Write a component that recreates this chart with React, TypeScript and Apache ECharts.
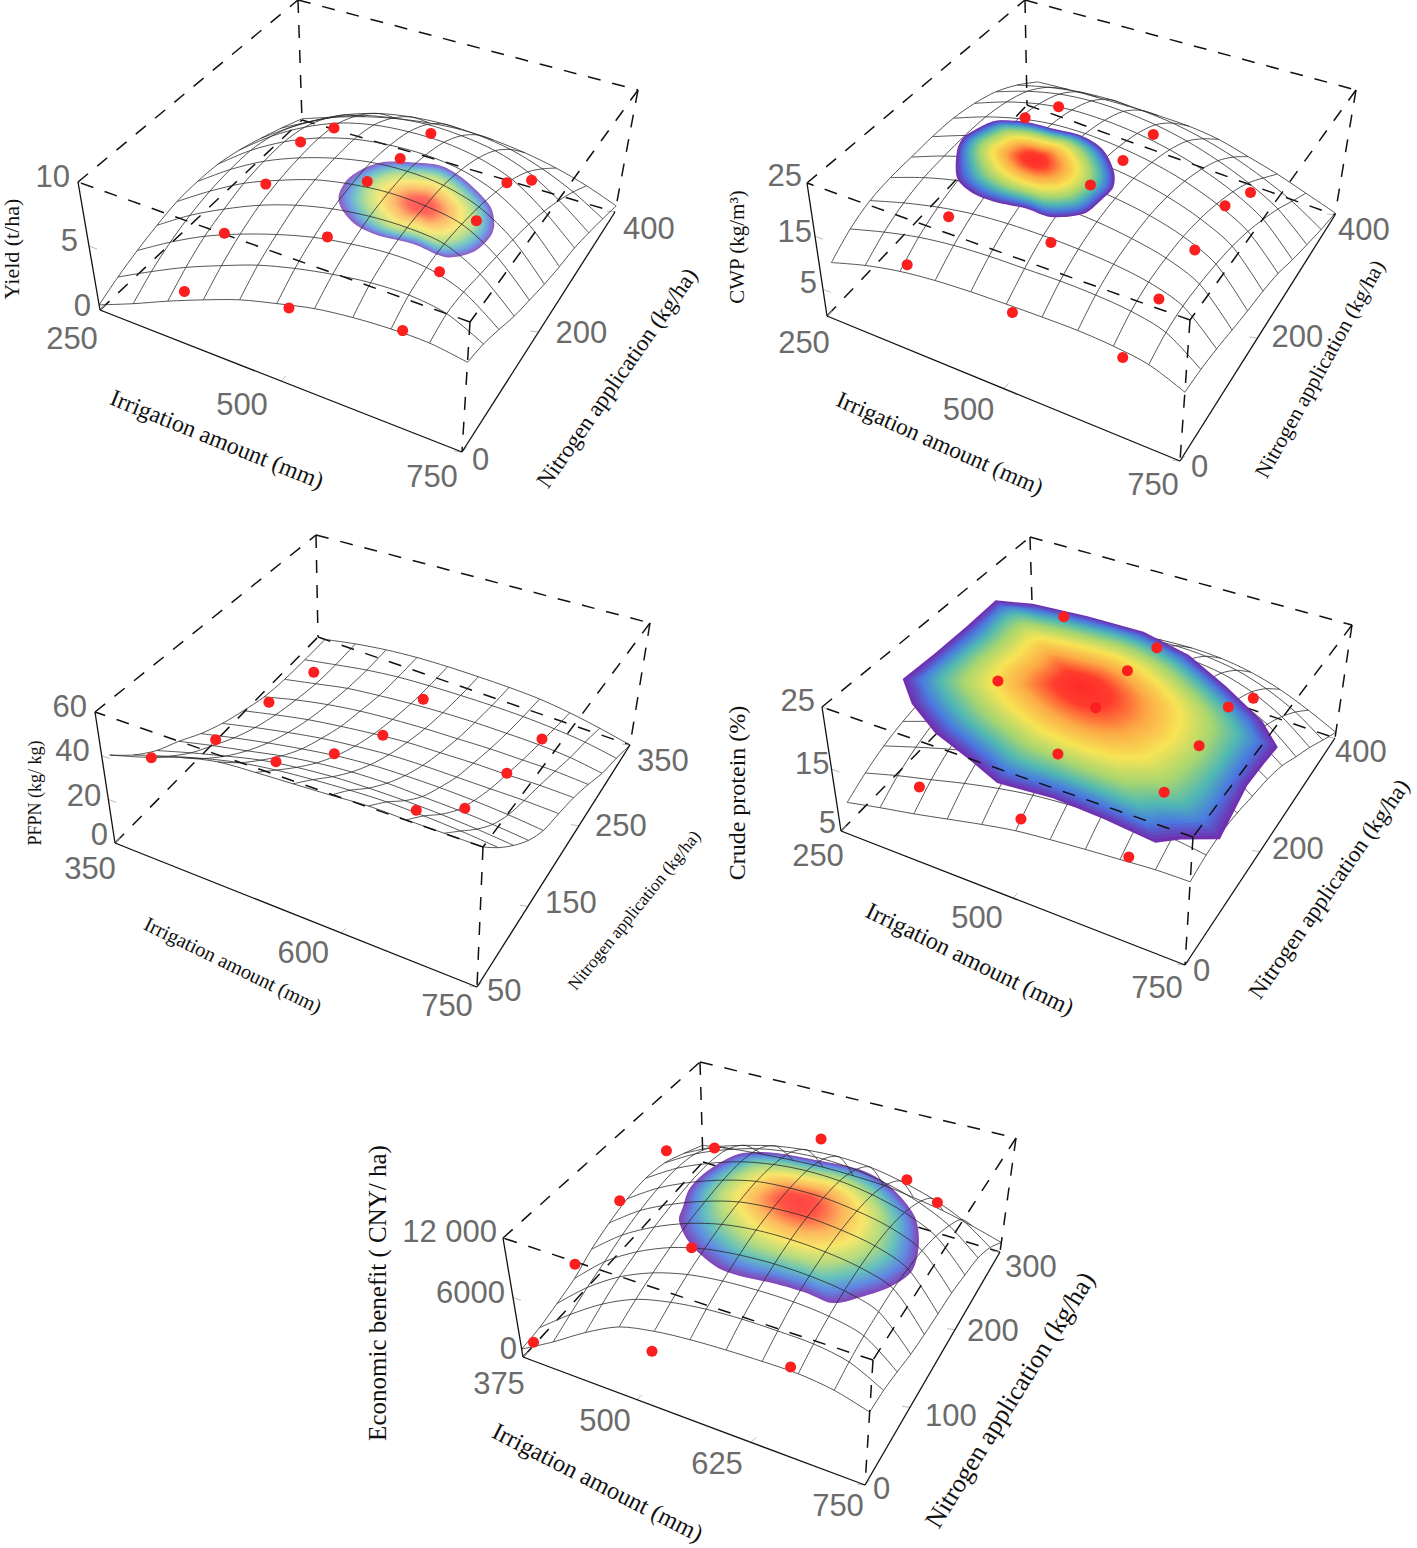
import { useEffect, useRef } from "react";
import * as echarts from "echarts";

// surfaces: rows go along nitrogen (low to high), columns along irrigation (low to high)
const YIELD_IRR = [250, 300, 350, 400, 450, 500, 550, 600, 650, 700, 750];
const YIELD_N = [0, 40, 80, 120, 160, 200, 240, 280, 320, 360, 400];
const YIELD_SURFACE = [
  [0.4, 1.6, 2.9, 4.1, 5.2, 6.0, 6.7, 7.1, 7.3, 7.3, 6.9],
  [1.1, 2.6, 4.0, 5.2, 6.3, 7.1, 7.7, 8.1, 8.2, 7.8, 6.5],
  [1.7, 3.4, 4.9, 6.1, 7.1, 7.9, 8.4, 8.7, 8.6, 7.7, 5.8],
  [2.2, 4.0, 5.5, 6.8, 7.8, 8.5, 8.9, 9.0, 8.7, 7.3, 5.0],
  [2.6, 4.4, 6.0, 7.2, 8.2, 8.8, 9.1, 9.0, 8.5, 6.9, 4.4],
  [2.7, 4.6, 6.2, 7.4, 8.3, 8.9, 9.1, 8.9, 8.1, 6.4, 3.8],
  [2.6, 4.6, 6.2, 7.4, 8.2, 8.6, 8.7, 8.4, 7.5, 5.8, 3.3],
  [2.2, 4.2, 5.8, 7.0, 7.7, 8.0, 8.0, 7.6, 6.7, 5.0, 2.9],
  [1.6, 3.4, 4.9, 6.0, 6.6, 6.9, 6.8, 6.4, 5.5, 4.0, 2.2],
  [0.9, 2.3, 3.6, 4.5, 5.0, 5.2, 5.1, 4.7, 3.9, 2.8, 1.4],
  [0.1, 1.0, 1.8, 2.4, 2.8, 3.0, 2.9, 2.6, 2.1, 1.4, 0.5],
];
const YIELD_DOT_IRR = [375, 516, 665];
const YIELD_DOT_N = [0, 84, 168, 238, 304];
const YIELD_DOTS = [
  [4.2, 6.0, 7.5],
  [5.5, 8.1, 8.4],
  [6.1, 9.0, 8.7],
  [6.7, 7.9, 8.6],
  [5.2, 7.1, 5.8],
];
const YIELD_CAP_CENTER = [585, 178];
const YIELD_CAP_RIM = [
  [488, 151], [481, 178], [486, 201], [501, 222], [532, 235], [571, 244], [610, 234], [661, 208],
  [681, 184], [687, 164], [681, 135], [656, 115], [611, 118], [566, 113], [534, 117], [503, 134],
];

const CWP_IRR = [268, 316, 364, 412, 460, 508, 556, 604, 652, 700, 750];
const CWP_N = [0, 40, 80, 120, 160, 200, 240, 280, 320, 360, 400];
const CWP_SURFACE = [
  [11.0, 13.0, 14.4, 15.2, 15.6, 15.8, 15.9, 15.9, 15.5, 14.6, 12.2],
  [13.6, 15.5, 17.0, 17.9, 18.3, 18.4, 18.5, 18.3, 17.7, 16.2, 12.0],
  [15.3, 17.3, 18.9, 20.0, 20.5, 20.6, 20.4, 19.9, 18.9, 16.8, 11.4],
  [16.0, 18.4, 20.2, 21.4, 21.9, 21.9, 21.5, 20.6, 19.2, 16.6, 10.5],
  [16.2, 18.8, 20.8, 22.1, 22.7, 22.5, 21.9, 20.8, 19.0, 16.0, 9.6],
  [16.4, 19.0, 21.0, 22.3, 22.7, 22.4, 21.6, 20.2, 18.1, 15.0, 8.8],
  [16.2, 18.8, 20.7, 21.8, 22.0, 21.5, 20.5, 18.9, 16.6, 13.4, 7.6],
  [15.2, 17.8, 19.6, 20.5, 20.5, 19.9, 18.7, 16.9, 14.5, 11.2, 5.6],
  [13.4, 15.8, 17.4, 18.1, 18.0, 17.3, 16.0, 14.1, 11.7, 8.6, 3.8],
  [10.4, 12.2, 13.4, 13.9, 13.7, 13.1, 11.9, 10.2, 8.0, 5.4, 2.0],
  [6.4, 7.0, 7.4, 7.7, 7.8, 7.7, 7.0, 5.5, 4.0, 2.2, 0.4],
];
const CWP_DOT_IRR = [375, 516, 665];
const CWP_DOT_N = [0, 84, 168, 238, 304];
const CWP_DOTS = [
  [16.2, 14.7, 14.1],
  [17.2, 19.3, 16.0],
  [null, 21.8, 16.2],
  [21.6, 19.3, 17.0],
  [16.9, 17.4, 12.2],
];
const CWP_CAP_CENTER = [431, 177];
const CWP_CAP_RIM = [
  [343, 149], [334, 173], [339, 197], [350, 217], [383, 229], [420, 232], [458, 235], [495, 225], [529, 198],
  [544, 174], [543, 150], [537, 121], [505, 100], [472, 100], [435, 94], [404, 95], [372, 109],
];

const PFPN_IRR = [359, 398, 437, 476, 515, 554, 593, 632, 671, 710, 750];
const PFPN_N = [50, 80, 110, 140, 170, 200, 230, 260, 290, 320, 350];
const PFPN_SURFACE = [
  [41.7, 46.8, 52.7, 56.7, 57.9, 58.7, 59.5, 60.5, 60.2, 60.1, 60.0],
  [33.0, 38.5, 43.5, 47.5, 50.0, 51.5, 52.5, 53.0, 52.5, 51.5, 50.0],
  [26.0, 31.0, 35.5, 39.5, 42.0, 43.5, 44.0, 44.0, 43.5, 42.5, 41.0],
  [21.0, 25.0, 28.5, 32.0, 34.5, 36.0, 36.5, 36.0, 35.5, 34.5, 33.0],
  [15.0, 19.0, 22.5, 25.5, 28.0, 29.5, 30.0, 30.0, 29.5, 28.5, 27.0],
  [10.0, 14.0, 17.5, 20.5, 22.5, 24.0, 24.5, 24.5, 24.5, 24.5, 24.0],
  [6.0, 10.0, 13.5, 16.0, 18.0, 19.5, 20.0, 20.5, 20.5, 20.8, 20.5],
  [2.5, 7.0, 10.5, 13.0, 14.5, 15.5, 16.0, 16.5, 16.5, 16.5, 15.6],
  [0.8, 4.5, 8.0, 10.0, 11.5, 12.5, 13.0, 13.0, 12.8, 11.8, 9.6],
  [0.2, 3.5, 6.5, 8.5, 9.5, 10.0, 10.2, 10.0, 9.2, 7.8, 5.3],
  [0.0, 3.5, 6.0, 7.5, 8.1, 8.2, 8.0, 7.3, 5.5, 3.0, 0.0],
];
const PFPN_DOT_IRR = [383, 519, 666];
const PFPN_DOT_N = [75, 162, 239, 305];
const PFPN_DOTS = [
  [37.0, 55.9, 55.8],
  [18.4, 32.2, 28.0],
  [11.0, 14.7, 17.2],
  [2.8, 8.7, 9.2],
];

const PROTEIN_IRR = [266, 314, 363, 411, 460, 508, 556, 605, 653, 702, 750];
const PROTEIN_N = [0, 40, 80, 120, 160, 200, 240, 280, 320, 360, 400];
const PROTEIN_SURFACE = [
  [10.3, 11.5, 12.6, 13.8, 15.0, 16.0, 16.6, 17.1, 17.5, 17.9, 18.0],
  [12.0, 13.6, 15.0, 16.4, 17.6, 18.5, 19.0, 19.4, 19.6, 19.5, 18.8],
  [13.4, 15.2, 16.9, 18.3, 19.5, 20.3, 20.8, 21.0, 21.0, 20.5, 19.0],
  [14.4, 16.4, 18.2, 19.7, 20.8, 21.6, 22.0, 22.0, 21.7, 20.8, 18.6],
  [15.0, 17.1, 19.0, 20.6, 21.7, 22.4, 22.7, 22.6, 22.0, 20.7, 17.8],
  [15.2, 17.4, 19.4, 21.0, 22.1, 22.8, 23.0, 22.6, 21.8, 20.1, 17.0],
  [14.8, 17.1, 19.2, 20.8, 22.0, 22.6, 22.6, 22.1, 21.0, 19.0, 15.6],
  [13.8, 16.2, 18.3, 20.0, 21.2, 21.7, 21.6, 21.0, 19.6, 17.2, 13.4],
  [12.2, 14.6, 16.6, 18.2, 19.4, 19.9, 19.7, 19.0, 17.4, 14.8, 11.2],
  [10.0, 12.2, 14.0, 15.4, 16.4, 16.8, 16.6, 15.8, 14.2, 11.8, 8.6],
  [7.2, 9.0, 10.4, 11.6, 12.3, 12.6, 12.4, 11.6, 10.2, 8.2, 6.0],
];
const PROTEIN_DOT_IRR = [375, 516, 665];
const PROTEIN_DOT_N = [0, 84, 168, 238, 304];
const PROTEIN_DOTS = [
  [17.4, 18.2, 18.4],
  [null, 22.0, 21.7],
  [22.0, 22.9, 22.2],
  [null, 23.4, 22.6],
  [22.3, 21.8, 18.2],
];
const PROTEIN_CAP_CENTER = [460, 221];
const PROTEIN_CAP_RIM = [
  [258, 138], [261, 197], [262, 260], [261, 317], [308, 330], [387, 337], [472, 339], [552, 324], [629, 293],
  [706, 257], [748, 225], [746, 194], [745, 152], [758, 59], [715, 38], [690, 20], [613, 28], [541, 32],
  [468, 25], [416, 46], [353, 69], [296, 103],
];

const BENEFIT_IRR = [375, 412.5, 450, 487.5, 525, 562.5, 600, 637.5, 675, 712.5, 750];
const BENEFIT_N = [0, 30, 60, 90, 120, 150, 180, 210, 240, 270, 300];
const BENEFIT_SURFACE = [
  [800, 2800, 5000, 6800, 7600, 8000, 8200, 8300, 8300, 7900, 7000],
  [1000, 3600, 5900, 7600, 8500, 9000, 9200, 9200, 9100, 8500, 6900],
  [1500, 4400, 6700, 8300, 9300, 9800, 10000, 10000, 9700, 8900, 6500],
  [2100, 5100, 7300, 8900, 9900, 10400, 10600, 10500, 10100, 9100, 6000],
  [3200, 5900, 7900, 9400, 10400, 10900, 11000, 10800, 10300, 9200, 5700],
  [4000, 6500, 8300, 9700, 10700, 11100, 11200, 10900, 10300, 9000, 5500],
  [4600, 6900, 8600, 9900, 10800, 11100, 11100, 10700, 10000, 8600, 5300],
  [4800, 7000, 8600, 9800, 10500, 10800, 10700, 10200, 9300, 7800, 4800],
  [4400, 6500, 8000, 9100, 9700, 9900, 9700, 9100, 8100, 6600, 4200],
  [3300, 5100, 6300, 7200, 7700, 7900, 7700, 7100, 6200, 4900, 2900],
  [2000, 2600, 3000, 3300, 3500, 3500, 3400, 3000, 2500, 1800, 1000],
];
const BENEFIT_DOT_IRR = [390, 521, 667];
const BENEFIT_DOT_N = [0, 75, 150, 225, 300];
const BENEFIT_DOTS = [
  [2000, 5500, 8700],
  [5100, 10900, null],
  [6900, null, null],
  [7300, null, 11400],
  [2100, 6600, 3200],
];
const BENEFIT_CAP_CENTER = [573, 179];
const BENEFIT_CAP_RIM = [
  [475, 132], [466, 156], [467, 185], [481, 217], [511, 230], [555, 235], [607, 238], [649, 227], [691, 201], [712, 172],
  [723, 138], [713, 112], [695, 92], [672, 73], [643, 75], [608, 74], [576, 70], [549, 72], [511, 89], [483, 113],
];

const TICK_COLOR = "#6b6b6b";
const SANS = "'Liberation Sans', Arial, sans-serif";
const SERIF = "'Liberation Serif', 'Times New Roman', serif";
const CAP_STEPS = 72;
const CAP_STOPS: [number, number[]][] = [
  [0, [255, 42, 42]],
  [0.18, [255, 60, 45]],
  [0.38, [252, 170, 70]],
  [0.56, [247, 228, 85]],
  [0.72, [168, 214, 112]],
  [0.84, [79, 184, 181]],
  [0.93, [74, 120, 224]],
  [1, [112, 48, 176]],
];

const PANELS: any[] = [
  {
    floor: [[100, 310], [462, 452], [615, 212], [302, 120]],
    top: [[78, 182], [470, 322], [638, 90], [298, 0]],
    irrRange: [250, 750], nRange: [0, 400], zRange: [0, 10],
    irr: YIELD_IRR, n: YIELD_N, surface: YIELD_SURFACE,
    dotIrr: YIELD_DOT_IRR, dotN: YIELD_DOT_N, dots: YIELD_DOTS,
    capCenter: YIELD_CAP_CENTER, capRim: YIELD_CAP_RIM, capZ: 8, capFade: 0.78, meshOverCap: true,
    capOval: [78, 46, 17],
    irrTicks: [250, 500, 750], nTicks: [0, 200, 400], zTicks: [0, 5, 10], zLabels: ["0", "5", "10"],
    irrOffsets: [[-28, 28], [-39, 23], [-30, 24]],
    nOffsets: [[10, 7], [17, 0], [8, 16]],
    zOffsets: [[-9, -5], [-11, -6], [-8, -6]],
    titles: [
      { text: "Yield (t/ha)", x: 11, y: 249, rot: 90, size: 22 },
      { text: "Irrigation amount (mm)", x: 217, y: 439, rot: -22, size: 24 },
      { text: "Nitrogen application (kg/ha)", x: 617, y: 378, rot: 55, size: 23 },
    ],
  },
  {
    floor: [[827, 316], [1180, 461], [1335, 215], [1027, 105]],
    top: [[807, 183], [1190, 320], [1356, 90], [1025, 0]],
    irrRange: [250, 750], nRange: [0, 400], zRange: [0, 25],
    irr: CWP_IRR, n: CWP_N, surface: CWP_SURFACE,
    dotIrr: CWP_DOT_IRR, dotN: CWP_DOT_N, dots: CWP_DOTS,
    capCenter: CWP_CAP_CENTER, capRim: CWP_CAP_RIM, capZ: 22, capFade: 1, meshOverCap: false,
    capOval: [80, 45, 20],
    irrTicks: [250, 500, 750], nTicks: [0, 200, 400], zTicks: [5, 15, 25], zLabels: ["5", "15", "25"],
    irrOffsets: [[-23, 26], [-35, 21], [-27, 23]],
    nOffsets: [[11, 5], [14, -2], [3, 14]],
    zOffsets: [[-6, -7], [-3, -5], [-5, -8]],
    titles: [
      { text: "CWP (kg/m³)", x: 737, y: 247, rot: 90, size: 21 },
      { text: "Irrigation amount (mm)", x: 940, y: 443, rot: -23.8, size: 23.5 },
      { text: "Nitrogen application (kg/ha)", x: 1320, y: 369, rot: 61, size: 21.5 },
    ],
  },
  {
    floor: [[115, 843], [477, 987], [630, 745], [318, 637]],
    top: [[95, 712], [483, 847], [650, 623], [316, 535]],
    irrRange: [350, 750], nRange: [50, 350], zRange: [0, 60],
    irr: PFPN_IRR, n: PFPN_N, surface: PFPN_SURFACE,
    dotIrr: PFPN_DOT_IRR, dotN: PFPN_DOT_N, dots: PFPN_DOTS,
    irrTicks: [350, 600, 750], nTicks: [50, 150, 250, 350], zTicks: [0, 20, 40, 60], zLabels: ["0", "20", "40", "60"],
    irrOffsets: [[-25, 25], [-38, 19], [-30, 18]],
    nOffsets: [[10, 3], [17, -4], [16, 0], [7, 15]],
    zOffsets: [[-7, -9], [-7, -4], [-12, -5], [-8, -6]],
    titles: [
      { text: "PFPN (kg/ kg)", x: 35, y: 793, rot: 90, size: 18 },
      { text: "Irrigation amount (mm)", x: 233, y: 965, rot: -26, size: 20.5 },
      { text: "Nitrogen application (kg/ha)", x: 634, y: 910, rot: 51, size: 17.5 },
    ],
  },
  {
    floor: [[841, 831], [1185, 965], [1335, 738], [1033, 635]],
    top: [[822, 707], [1193, 837], [1352, 625], [1030, 537]],
    irrRange: [250, 750], nRange: [0, 400], zRange: [5, 25],
    irr: PROTEIN_IRR, n: PROTEIN_N, surface: PROTEIN_SURFACE,
    dotIrr: PROTEIN_DOT_IRR, dotN: PROTEIN_DOT_N, dots: PROTEIN_DOTS,
    capCenter: PROTEIN_CAP_CENTER, capRim: PROTEIN_CAP_RIM, capZ: 20, capFade: 1, meshOverCap: false,
    capOval: [190, 100, 27], sharpRim: true,
    irrTicks: [250, 500, 750], nTicks: [0, 200, 400], zTicks: [5, 15, 25], zLabels: ["5", "15", "25"],
    irrOffsets: [[-23, 24], [-36, 19], [-28, 22]],
    nOffsets: [[8, 5], [12, -3], [0, 13]],
    zOffsets: [[-5, -9], [-2, -6], [-7, -7]],
    titles: [
      { text: "Crude protein (%)", x: 737, y: 793, rot: 90, size: 24 },
      { text: "Irrigation amount (mm)", x: 970, y: 959, rot: -26, size: 24 },
      { text: "Nitrogen application (kg/ha)", x: 1329, y: 889, rot: 55, size: 23 },
    ],
  },
  {
    floor: [[523, 1357], [865, 1485], [1000, 1252], [703, 1162]],
    top: [[503, 1238], [873, 1360], [1016, 1138], [700, 1062]],
    irrRange: [375, 750], nRange: [0, 300], zRange: [0, 12000],
    irr: BENEFIT_IRR, n: BENEFIT_N, surface: BENEFIT_SURFACE,
    dotIrr: BENEFIT_DOT_IRR, dotN: BENEFIT_DOT_N, dots: BENEFIT_DOTS,
    capCenter: BENEFIT_CAP_CENTER, capRim: BENEFIT_CAP_RIM, capZ: 10000, capFade: 0.88, meshOverCap: true,
    capOval: [120, 72, 20],
    irrTicks: [375, 500, 625, 750], nTicks: [0, 100, 200, 300], zTicks: [0, 6000, 12000], zLabels: ["0", "6000", "12 000"],
    irrOffsets: [[-24, 26], [-32, 21], [-34, 21], [-27, 20]],
    nOffsets: [[8, 3], [15, 8], [12, 1], [5, 14]],
    zOffsets: [[-6, -9], [-8, -5], [-6, -7]],
    titles: [
      { text: "Economic benefit ( CNY/ ha)", x: 377, y: 1293, rot: 90, size: 25 },
      { text: "Irrigation amount (mm)", x: 598, y: 1482, rot: -27, size: 24.5 },
      { text: "Nitrogen application (kg/ha)", x: 1010, y: 1400, rot: 58, size: 26 },
    ],
  },
];

const mix = (a: number[], b: number[], t: number) => [a[0] + (b[0] - a[0]) * t, a[1] + (b[1] - a[1]) * t];

// trilinear map of the box corners: floor and top are [front-left, front-right, back-right, back-left]
const project = (p: any, irr: number, n: number, z: number) => {
  const u = (irr - p.irrRange[0]) / (p.irrRange[1] - p.irrRange[0]);
  const v = (n - p.nRange[0]) / (p.nRange[1] - p.nRange[0]);
  const w = (z - p.zRange[0]) / (p.zRange[1] - p.zRange[0]);
  const at = (c: number[][]) => mix(mix(c[0], c[1], u), mix(c[3], c[2], u), v);
  return mix(at(p.floor), at(p.top), w);
};

const capColor = (t: number, fade: number) => {
  let i = 0;
  while (i < CAP_STOPS.length - 2 && t > CAP_STOPS[i + 1][0]) i++;
  const [t0, c0] = CAP_STOPS[i];
  const [t1, c1] = CAP_STOPS[i + 1];
  const k = (t - t0) / (t1 - t0);
  const rgb = c0.map((c, j) => Math.round((c + (c1[j] - c) * k) * fade + 255 * (1 - fade)));
  return `rgb(${rgb.join(",")})`;
};

const shapeSeries = (items: any[], draw: (item: any, api: any) => any) => ({
  type: "custom",
  coordinateSystem: "cartesian2d",
  silent: true,
  clip: false,
  data: items.map(() => [0, 0]),
  renderItem: (params: any, api: any) => draw(items[params.dataIndex], api),
});

const meshSeries = (p: any) => {
  const lines: number[][][] = [];
  p.n.forEach((n: number, j: number) => lines.push(p.irr.map((irr: number, i: number) => project(p, irr, n, p.surface[j][i]))));
  p.irr.forEach((irr: number, i: number) => lines.push(p.n.map((n: number, j: number) => project(p, irr, n, p.surface[j][i]))));
  return shapeSeries(lines, (pts, api) => ({
    type: "polyline",
    shape: { points: pts.map((q: number[]) => api.coord(q)), smooth: 0.3 },
    style: { stroke: "#2a2a2a", lineWidth: 0.8, fill: "none" },
  }));
};

// nested rings: the outer ones follow the rim, the inner ones relax to a tilted oval that stays inside it
const capSeries = (p: any) => {
  const center = project(p, p.capCenter[0], p.capCenter[1], p.capZ);
  const rim = p.capRim.map((r: number[]) => project(p, r[0], r[1], p.capZ));
  const [a, b, tilt] = p.capOval;
  const phi = (tilt * Math.PI) / 180;
  const oval = rim.map((q: number[]) => {
    const dx = q[0] - center[0];
    const dy = q[1] - center[1];
    const t = Math.atan2(dy, dx) - phi;
    const r = Math.min((a * b) / Math.hypot(b * Math.cos(t), a * Math.sin(t)), Math.hypot(dx, dy));
    return [center[0] + r * Math.cos(t + phi), center[1] + r * Math.sin(t + phi)];
  });
  const rings = Array.from({ length: CAP_STEPS }, (_, i) => 1 - i / CAP_STEPS);
  return shapeSeries(rings, (s, api) => ({
    type: "polygon",
    shape: {
      points: rim.map((q: number[], i: number) => api.coord(mix(center, mix(oval[i], q, s * s * s), s))),
      smooth: p.sharpRim && s > 0.93 ? 0 : 0.3,
    },
    style: { fill: capColor(s, p.capFade) },
  }));
};

// hidden edges go under the cap, the near ones over it
const boxSeries = (p: any, near: boolean) => {
  const [fl, fr, br, bl] = p.floor;
  const [tfl, tfr, tbr, tbl] = p.top;
  const edges = near
    ? [[tfl, tbl, 1], [tbl, tbr, 1], [tbr, tfr, 1], [tfr, tfl, 1], [tbr, br, 1], [tfr, fr, 1], [fl, tfl, 0], [fl, fr, 0], [fr, br, 0]]
    : [[tbl, bl, 1], [fl, bl, 1], [bl, br, 1]];
  return shapeSeries(edges, (e, api) => {
    const a = api.coord(e[0]);
    const b = api.coord(e[1]);
    return {
      type: "line",
      shape: { x1: a[0], y1: a[1], x2: b[0], y2: b[1] },
      style: { stroke: "#111", lineWidth: e[2] ? 1.5 : 1.3, lineDash: e[2] ? [13, 12] : null },
    };
  });
};

const tickSeries = (p: any) => {
  const marks = [
    ...p.irrTicks.map((t: number) => [project(p, t, p.nRange[0], p.zRange[0]), [5, -5]]),
    ...p.nTicks.map((t: number) => [project(p, p.irrRange[1], t, p.zRange[0]), [-8, -1]]),
    ...p.zTicks.map((t: number) => [project(p, p.irrRange[0], p.nRange[0], t), [8, 3]]),
  ];
  return shapeSeries(marks, (m, api) => {
    const a = api.coord(m[0]);
    return {
      type: "line",
      shape: { x1: a[0], y1: a[1], x2: a[0] + m[1][0], y2: a[1] + m[1][1] },
      style: { stroke: "#aaa", lineWidth: 0.8 },
    };
  });
};

const dotSeries = (p: any) => {
  const data: number[][] = [];
  p.dots.forEach((row: (number | null)[], j: number) =>
    row.forEach((z, i) => {
      if (z !== null) data.push(project(p, p.dotIrr[i], p.dotN[j], z));
    }),
  );
  return { type: "scatter", data, symbolSize: 11, silent: true, itemStyle: { color: "#fb1f1f", opacity: 1 } };
};

const panelTexts = (p: any) => {
  const tick = (text: string, q: number[], off: number[], align: string) => ({
    type: "text",
    x: q[0] + off[0],
    y: q[1] + off[1],
    silent: true,
    style: { text, fill: TICK_COLOR, fontFamily: SANS, fontSize: 31, align, verticalAlign: "middle" },
  });
  return [
    ...p.irrTicks.map((t: number, i: number) => tick(String(t), project(p, t, p.nRange[0], p.zRange[0]), p.irrOffsets[i], "center")),
    ...p.nTicks.map((t: number, i: number) => tick(String(t), project(p, p.irrRange[1], t, p.zRange[0]), p.nOffsets[i], "left")),
    ...p.zTicks.map((t: number, i: number) => tick(p.zLabels[i], project(p, p.irrRange[0], p.nRange[0], t), p.zOffsets[i], "right")),
    ...p.titles.map((t: any) => ({
      type: "text",
      x: t.x,
      y: t.y,
      rotation: (t.rot * Math.PI) / 180,
      silent: true,
      style: { text: t.text, fill: "#111", fontFamily: SERIF, fontSize: t.size, align: "center", verticalAlign: "middle" },
    })),
  ];
};

const App = () => {
  const chartRef = useRef<HTMLDivElement>(null);

  useEffect(() => {
    document.body.style.margin = "0";
    const chart = echarts.init(chartRef.current, null, { renderer: "svg" });
    const series: any[] = [];
    PANELS.forEach((p) => {
      series.push(boxSeries(p, false), tickSeries(p));
      if (p.capRim && p.meshOverCap) series.push(capSeries(p));
      series.push(meshSeries(p));
      if (p.capRim && !p.meshOverCap) series.push(capSeries(p));
      series.push(boxSeries(p, true), dotSeries(p));
    });
    chart.setOption({
      animation: false,
      backgroundColor: "#fff",
      grid: { left: 0, right: 0, top: 0, bottom: 0 },
      xAxis: { type: "value", min: 0, max: 1417, show: false },
      yAxis: { type: "value", min: 0, max: 1548, inverse: true, show: false },
      graphic: { elements: PANELS.flatMap(panelTexts) },
      series,
    });
    return () => chart.dispose();
  }, []);

  return <div ref={chartRef} style={{ width: 1417, height: 1548 }} />;
};

export default App;
